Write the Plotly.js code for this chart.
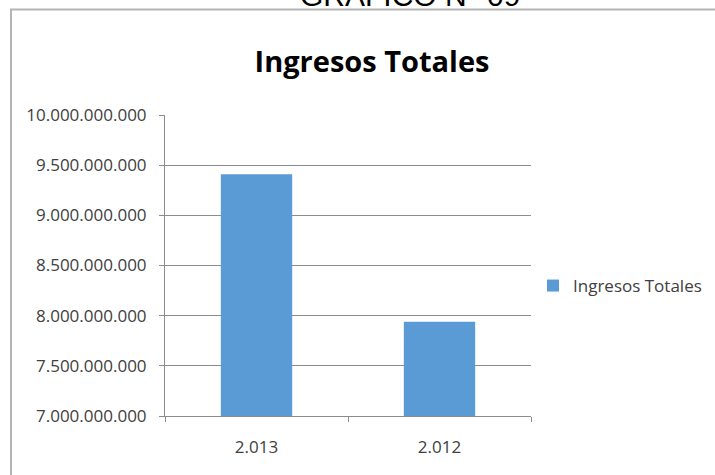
<!DOCTYPE html>
<html>
<head>
<meta charset="utf-8">
<script src="https://cdn.plot.ly/plotly-3.0.1.min.js"></script>
<style>html,body{margin:0;padding:0;background:#fff;}#chart{width:715px;height:475px;}</style>
</head>
<body>
<div id="chart"></div>
<script>
const categories = ["2.013", "2.012"];
const ingresosTotales = [9409000000, 7939000000];
const seriesName = "Ingresos Totales";
const chartTitle = "Ingresos Totales";
const headerText = "GRAFICO N° 09";

const L = 165, R = 531, T = 115, B = 416;
const W = 715, H = 475;
const px = x => (x - L) / (R - L);
const py = y => (B - y) / (B - T);

const font = "Open Sans, sans-serif";

const data = [{
  type: "bar",
  x: categories,
  y: ingresosTotales,
  name: seriesName,
  marker: {color: "#5B9BD5"},
  showlegend: true,
  hoverinfo: "none"
}];

const layout = {
  width: W, height: H,
  margin: {l: L, r: W - R, t: T, b: H - B, pad: 0, autoexpand: false},
  paper_bgcolor: "#fff",
  plot_bgcolor: "#fff",
  separators: ",.",
  bargap: 0.61,
  showlegend: true,
  title: {
    text: "<b>" + chartTitle + "</b>",
    font: {family: font, size: 29, color: "#000"},
    x: 372 / W, xanchor: "center", xref: "container",
    y: 1 - 62 / H, yanchor: "middle", yref: "container"
  },
  xaxis: {
    type: "category",
    showgrid: false,
    showline: true, linecolor: "#8c8c8c", linewidth: 1,
    ticks: "outside", tickson: "boundaries", ticklen: 5, tickcolor: "#8c8c8c",
    ticklabelstandoff: 16,
    tickfont: {family: font, size: 17, color: "#404040"},
    automargin: false
  },
  yaxis: {
    range: [7000000000, 10000000000],
    dtick: 500000000,
    tick0: 7000000000,
    tickformat: ",.0f",
    showgrid: true, gridcolor: "#8c8c8c", gridwidth: 1,
    zeroline: false,
    showline: true, linecolor: "#8c8c8c", linewidth: 1,
    ticks: "outside", ticklen: 5, tickcolor: "#8c8c8c",
    ticklabelstandoff: 9,
    tickfont: {family: font, size: 17, color: "#404040"},
    automargin: false
  },
  legend: {
    xref: "container", yref: "container",
    x: 533 / W, xanchor: "left",
    y: 1 - 286 / H, yanchor: "middle",
    font: {family: font, size: 17, color: "#404040"},
    bgcolor: "rgba(0,0,0,0)"
  },
  shapes: [{
    type: "rect", xref: "paper", yref: "paper",
    x0: px(11), x1: px(730), y0: py(490), y1: py(9.5),
    line: {color: "#b4b4b4", width: 2}, fillcolor: "rgba(0,0,0,0)", layer: "below"
  }],
  annotations: [{
    text: headerText, xref: "paper", yref: "paper",
    x: px(410), xanchor: "center",
    y: py(14), yanchor: "bottom",
    showarrow: false,
    font: {family: "Liberation Sans, Arial, sans-serif", size: 30, color: "#000"}
  }]
};

Plotly.newPlot("chart", data, layout, {displayModeBar: false, staticPlot: true});
</script>
</body>
</html>
